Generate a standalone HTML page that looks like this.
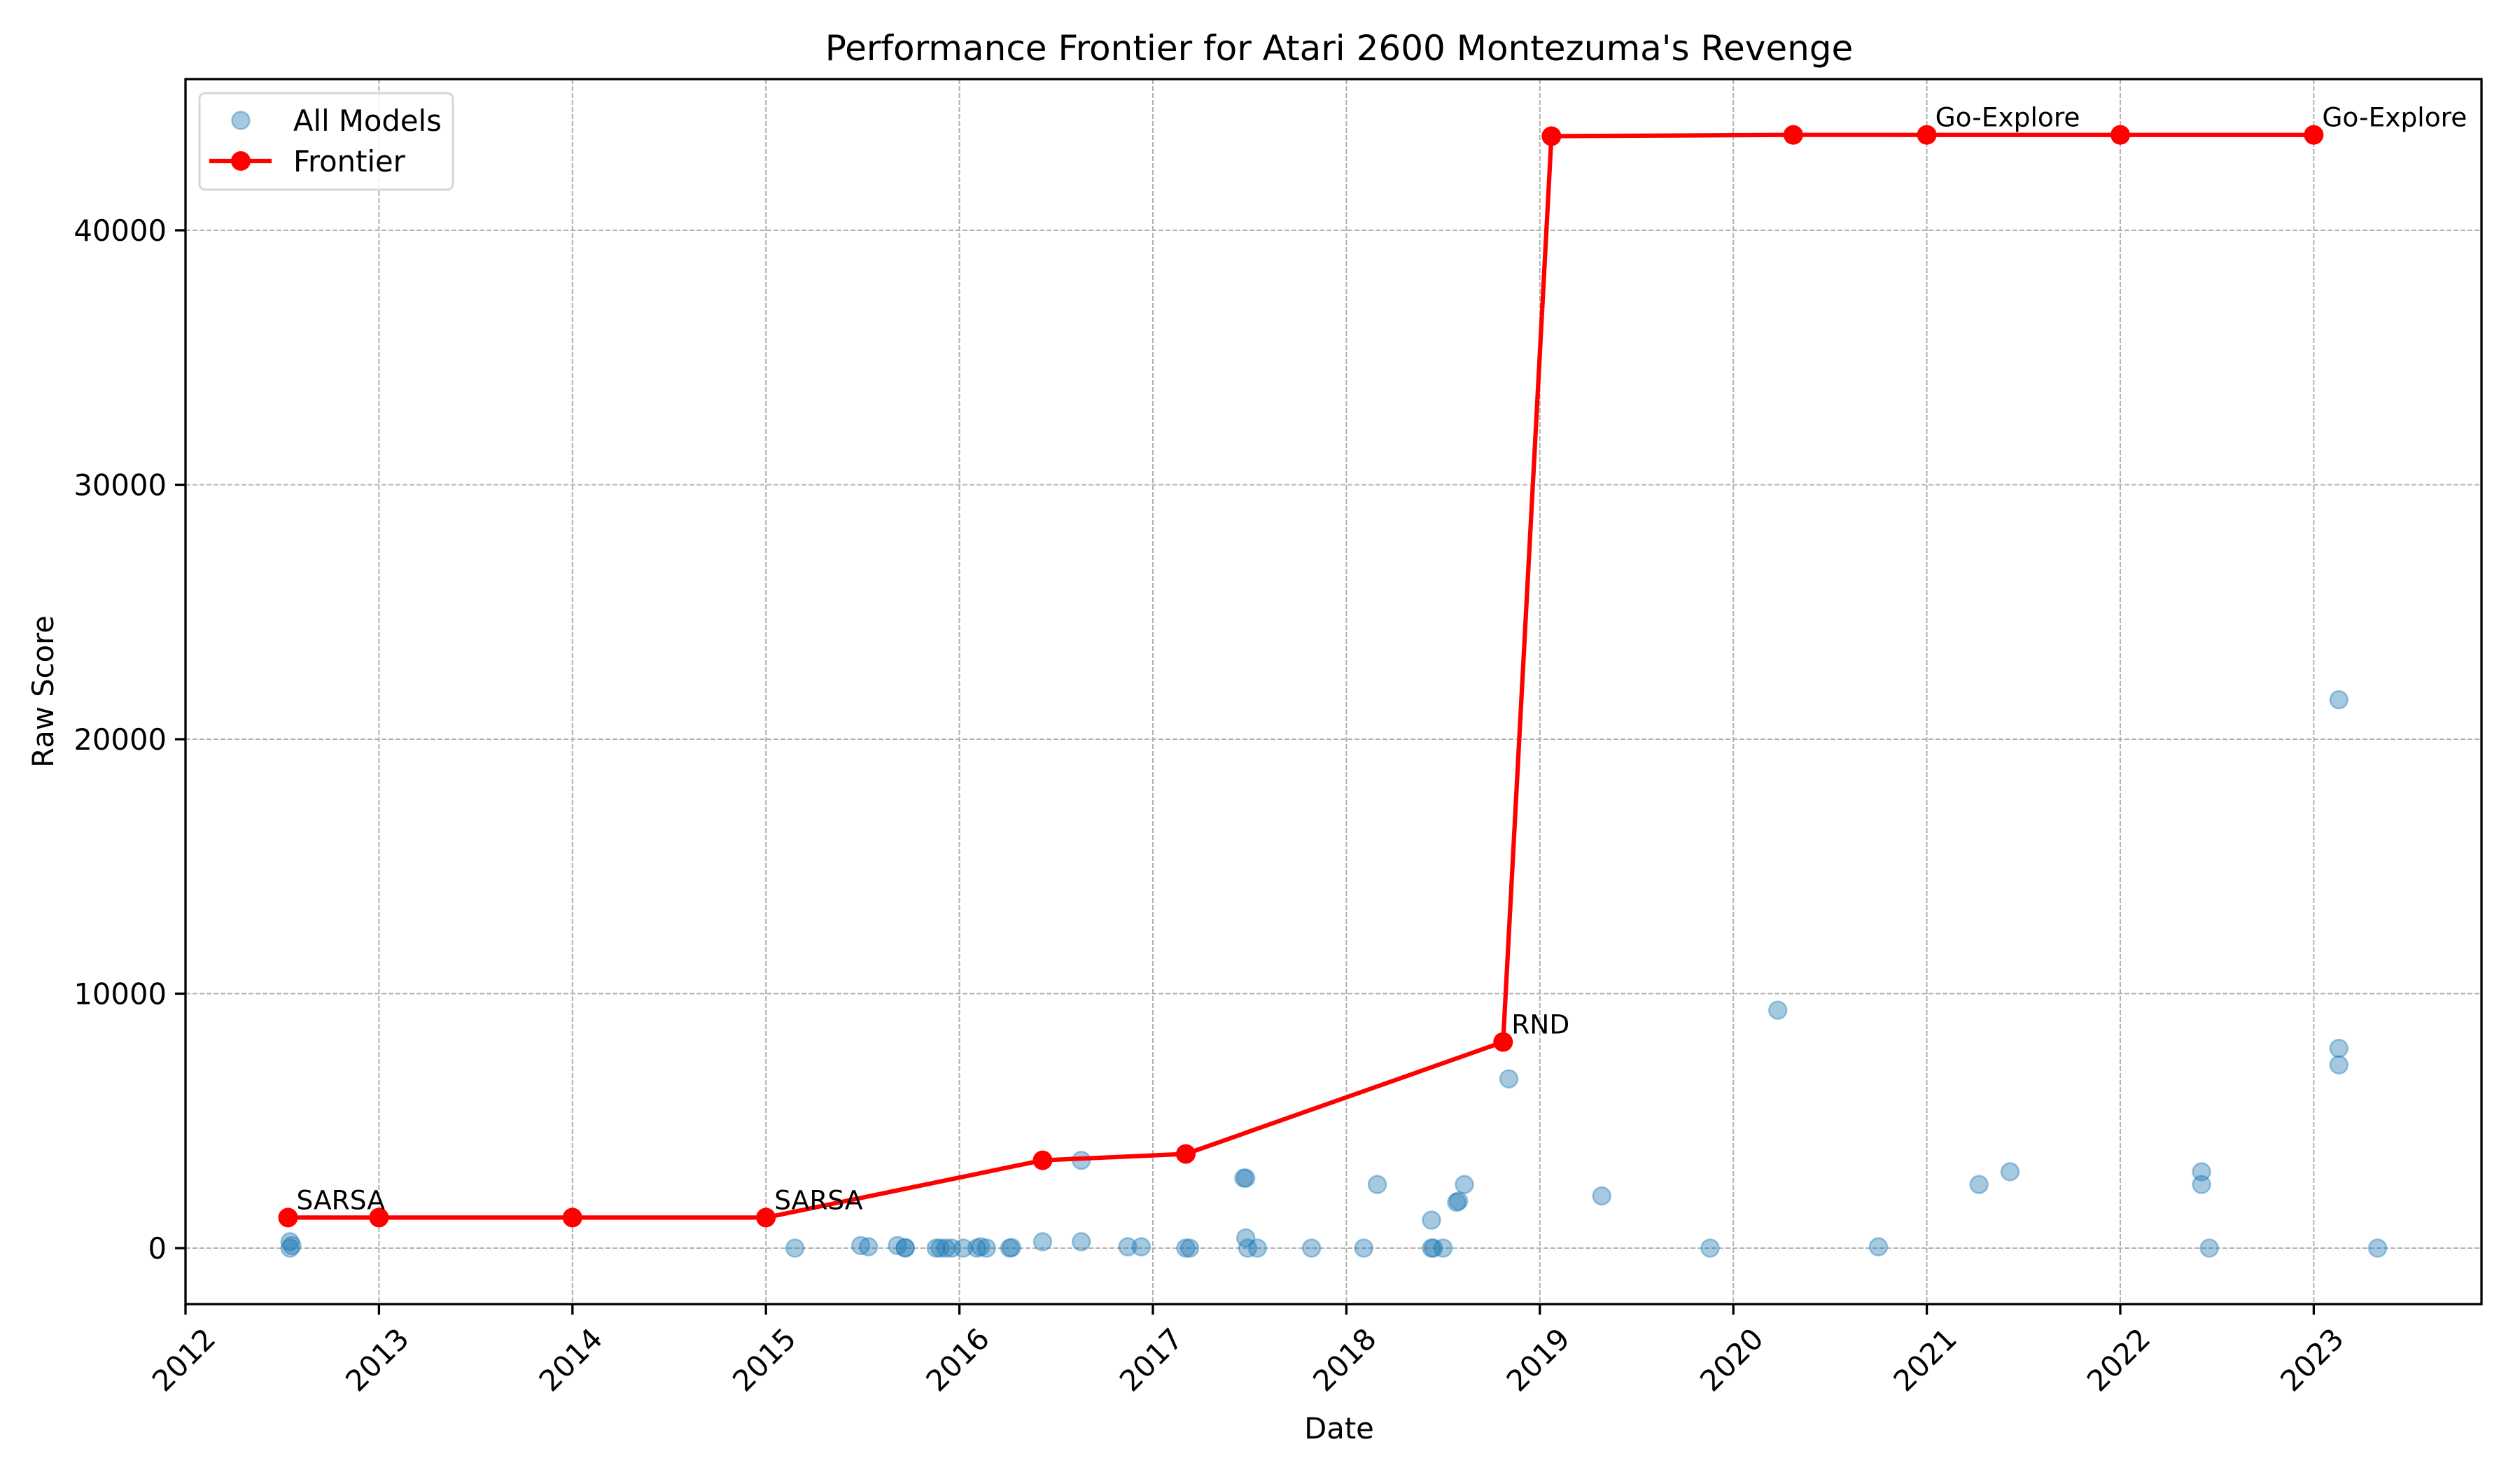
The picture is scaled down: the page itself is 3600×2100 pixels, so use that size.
<!DOCTYPE html>
<html><head><meta charset="utf-8"><style>
html,body{margin:0;padding:0;background:#fff;}
svg{display:block;font-family:"DejaVu Sans","Liberation Sans",sans-serif;}
</style></head><body>
<svg id="chart" width="3600" height="2100" viewBox="0 0 3600 2100" xmlns="http://www.w3.org/2000/svg">
<rect width="3600" height="2100" fill="#fff"/>
<g id="grid"></g>
<g id="scatter"></g>
<g id="frontier"></g>
<g id="annos"></g>
<g id="axes"></g>
<text x="1913" y="86" font-size="50" text-anchor="middle">Performance Frontier for Atari 2600 Montezuma's Revenge</text>
<text x="1913" y="2055" font-size="41.7" text-anchor="middle">Date</text>
<text transform="translate(76,988) rotate(-90)" font-size="41.7" text-anchor="middle">Raw Score</text>
<g>
<rect x="285" y="133" width="362" height="138" rx="8" fill="#fff" fill-opacity="0.8" stroke="#d6d6d6" stroke-width="3"/>
<circle cx="344" cy="172" r="12.5" fill="#1f77b4" fill-opacity="0.4" stroke="#1f77b4" stroke-opacity="0.4" stroke-width="2.5"/>
<text x="419" y="187" font-size="41.7">All Models</text>
<line x1="299" y1="230" x2="388" y2="230" stroke="#f00" stroke-width="6.25"/>
<circle cx="344" cy="230" r="14" fill="#f00"/>
<text x="419" y="245" font-size="41.7">Frontier</text>
</g>
</svg>
<script>
const xTicks = [2012,2013,2014,2015,2016,2017,2018,2019,2020,2021,2022,2023];
const yTicks = [0,10000,20000,30000,40000];
const scatterDates = [2012.54,2012.54,2012.55,2015.15,2015.49,2015.53,2015.68,2015.72,2015.72,2015.88,2015.9,2015.93,2015.96,2016.02,2016.09,2016.11,2016.14,2016.26,2016.27,2016.43,2016.63,2016.63,2016.87,2016.94,2017.17,2017.19,2017.47,2017.48,2017.48,2017.49,2017.54,2017.82,2018.09,2018.16,2018.44,2018.44,2018.45,2018.5,2018.57,2018.58,2018.61,2018.84,2019.32,2019.88,2020.23,2020.75,2021.27,2021.43,2022.42,2022.42,2022.46,2023.13,2023.13,2023.13,2023.33];
const scatterScores = [250,0,100,0,100,50,100,0,20,0,0,0,0,0,0,50,0,0,20,250,3450,250,50,50,0,0,2750,2750,400,0,0,0,0,2500,1100,0,0,0,1800,1850,2500,6650,2050,0,9350,50,2500,3000,3000,2500,0,21550,7850,7200,0];
const frontierDates = [2012.53,2013.0,2014.0,2015.0,2016.43,2017.17,2018.81,2019.06,2020.31,2021.0,2022.0,2023.0];
const frontierScores = [1200,1200,1200,1200,3450,3700,8100,43700,43750,43750,43750,43750];
const annoLabels = ["SARSA","SARSA","RND","Go-Explore","Go-Explore"];
const annoIdx = [0,3,6,9,11];

const L=265, R=3545, T=113, B=1863;
const X0=2012, XR=11.867, Y0=1783, YPX=0.03635;
function sx(v){return L+(v-X0)/XR*(R-L);}
function sy(v){return Y0-v*YPX;}
const NS="http://www.w3.org/2000/svg";
function mk(tag,attrs,parent){const e=document.createElementNS(NS,tag);for(const k in attrs)e.setAttribute(k,attrs[k]);parent.appendChild(e);return e;}
const grid=document.getElementById('grid'), axes=document.getElementById('axes');
xTicks.forEach(t=>{
  const x=sx(t);
  const g=mk('line',{x1:x,y1:T,x2:x,y2:B,stroke:'#b0b0b0','stroke-width':2,'stroke-dasharray':'7,3'},grid);
  
  
  const tk=mk('line',{x1:x,y1:B,x2:x,y2:B+15,stroke:'#000','stroke-width':3.3},axes);
  
  
  const tx=mk('text',{transform:`translate(${x},${B+82}) rotate(-45)`,'font-size':41.7,'text-anchor':'middle','dominant-baseline':'middle'},axes);
  tx.textContent=t;
  
  
});
yTicks.forEach(t=>{
  const y=sy(t);
  const g=mk('line',{x1:L,y1:y,x2:R,y2:y,stroke:'#b0b0b0','stroke-width':2,'stroke-dasharray':'7,3'},grid);
  
  
  const tk=mk('line',{x1:L-15,y1:y,x2:L,y2:y,stroke:'#000','stroke-width':3.3},axes);
  
  
  const tx=mk('text',{x:L-27,y:y+15,'font-size':41.7,'text-anchor':'end'},axes);
  tx.textContent=t;
  
  
});
const frame=mk('rect',{x:L,y:T,width:R-L,height:B-T,fill:'none',stroke:'#000','stroke-width':3.3},axes);


const sc=document.getElementById('scatter');
scatterDates.forEach((d,i)=>{
  const c=mk('circle',{cx:sx(d),cy:sy(scatterScores[i]),r:12.5,fill:'#1f77b4','fill-opacity':0.4,stroke:'#1f77b4','stroke-opacity':0.4,'stroke-width':2.5},sc);
  
  
});
const fr=document.getElementById('frontier');
const pl=mk('polyline',{points:frontierDates.map((d,i)=>sx(d)+','+sy(frontierScores[i])).join(' '),fill:'none',stroke:'#f00','stroke-width':6.25,'stroke-linejoin':'round'},fr);


frontierDates.forEach((d,i)=>{
  const c=mk('circle',{cx:sx(d),cy:sy(frontierScores[i]),r:14,fill:'#f00'},fr);
  
  
});
const an=document.getElementById('annos');
annoIdx.forEach((k,j)=>{
  const t=mk('text',{x:sx(frontierDates[k])+12,y:sy(frontierScores[k])-12,'font-size':37.5},an);
  t.textContent=annoLabels[j];
  
  
});
</script>
</body></html>
